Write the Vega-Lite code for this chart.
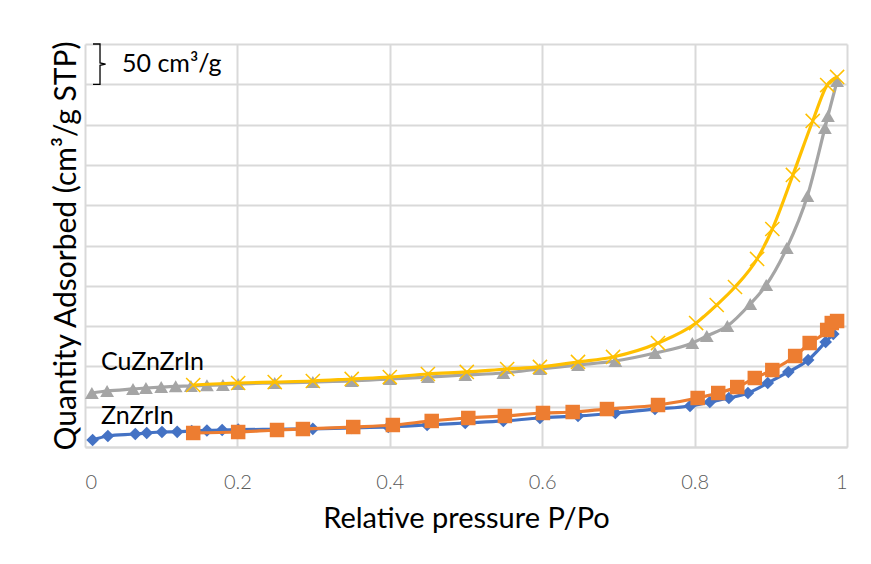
{
  "$schema": "https://vega.github.io/schema/vega-lite/v6.json",
  "width": 762,
  "height": 403,
  "autosize": {"type": "none"},
  "padding": {"left": 85, "top": 44, "right": 24, "bottom": 117},
  "background": "white",
  "config": {
    "font": "Lato",
    "view": {"stroke": null},
    "axis": {"gridColor": "#D9D9D9", "gridWidth": 2}
  },
  "datasets": {
    "iso": [
      {"series": "ZnZrIn ads", "p": 0.010, "q": 8.7},
      {"series": "ZnZrIn ads", "p": 0.030, "q": 13.6},
      {"series": "ZnZrIn ads", "p": 0.066, "q": 16.1},
      {"series": "ZnZrIn ads", "p": 0.081, "q": 17.4},
      {"series": "ZnZrIn ads", "p": 0.101, "q": 18.6},
      {"series": "ZnZrIn ads", "p": 0.121, "q": 18.8},
      {"series": "ZnZrIn ads", "p": 0.140, "q": 19.9},
      {"series": "ZnZrIn ads", "p": 0.160, "q": 20.5},
      {"series": "ZnZrIn ads", "p": 0.180, "q": 21.1},
      {"series": "ZnZrIn ads", "p": 0.201, "q": 21.5},
      {"series": "ZnZrIn ads", "p": 0.249, "q": 22.0},
      {"series": "ZnZrIn ads", "p": 0.299, "q": 22.5},
      {"series": "ZnZrIn ads", "p": 0.350, "q": 23.6},
      {"series": "ZnZrIn ads", "p": 0.398, "q": 24.8},
      {"series": "ZnZrIn ads", "p": 0.449, "q": 27.3},
      {"series": "ZnZrIn ads", "p": 0.499, "q": 29.8},
      {"series": "ZnZrIn ads", "p": 0.549, "q": 32.3},
      {"series": "ZnZrIn ads", "p": 0.597, "q": 36.0},
      {"series": "ZnZrIn ads", "p": 0.647, "q": 38.5},
      {"series": "ZnZrIn ads", "p": 0.696, "q": 42.2},
      {"series": "ZnZrIn ads", "p": 0.748, "q": 47.1},
      {"series": "ZnZrIn ads", "p": 0.794, "q": 50.9},
      {"series": "ZnZrIn ads", "p": 0.820, "q": 55.8},
      {"series": "ZnZrIn ads", "p": 0.845, "q": 60.8},
      {"series": "ZnZrIn ads", "p": 0.870, "q": 67.0},
      {"series": "ZnZrIn ads", "p": 0.896, "q": 79.4},
      {"series": "ZnZrIn ads", "p": 0.923, "q": 93.1},
      {"series": "ZnZrIn ads", "p": 0.949, "q": 107.9},
      {"series": "ZnZrIn ads", "p": 0.972, "q": 130.3},
      {"series": "ZnZrIn ads", "p": 0.982, "q": 140.2},

      {"series": "ZnZrIn des", "p": 0.142, "q": 17.4},
      {"series": "ZnZrIn des", "p": 0.201, "q": 18.6},
      {"series": "ZnZrIn des", "p": 0.252, "q": 21.1},
      {"series": "ZnZrIn des", "p": 0.286, "q": 22.3},
      {"series": "ZnZrIn des", "p": 0.352, "q": 24.8},
      {"series": "ZnZrIn des", "p": 0.404, "q": 27.3},
      {"series": "ZnZrIn des", "p": 0.455, "q": 32.3},
      {"series": "ZnZrIn des", "p": 0.503, "q": 36.0},
      {"series": "ZnZrIn des", "p": 0.551, "q": 38.5},
      {"series": "ZnZrIn des", "p": 0.601, "q": 42.2},
      {"series": "ZnZrIn des", "p": 0.640, "q": 43.4},
      {"series": "ZnZrIn des", "p": 0.685, "q": 47.1},
      {"series": "ZnZrIn des", "p": 0.752, "q": 52.1},
      {"series": "ZnZrIn des", "p": 0.804, "q": 60.8},
      {"series": "ZnZrIn des", "p": 0.831, "q": 67.0},
      {"series": "ZnZrIn des", "p": 0.856, "q": 74.4},
      {"series": "ZnZrIn des", "p": 0.879, "q": 85.6},
      {"series": "ZnZrIn des", "p": 0.902, "q": 95.5},
      {"series": "ZnZrIn des", "p": 0.932, "q": 112.9},
      {"series": "ZnZrIn des", "p": 0.951, "q": 129.0},
      {"series": "ZnZrIn des", "p": 0.974, "q": 145.2},
      {"series": "ZnZrIn des", "p": 0.980, "q": 153.8},
      {"series": "ZnZrIn des", "p": 0.987, "q": 156.3},

      {"series": "CuZnZrIn ads", "p": 0.009, "q": 67.0},
      {"series": "CuZnZrIn ads", "p": 0.029, "q": 69.5},
      {"series": "CuZnZrIn ads", "p": 0.063, "q": 72.0},
      {"series": "CuZnZrIn ads", "p": 0.080, "q": 73.2},
      {"series": "CuZnZrIn ads", "p": 0.100, "q": 74.4},
      {"series": "CuZnZrIn ads", "p": 0.119, "q": 75.3},
      {"series": "CuZnZrIn ads", "p": 0.139, "q": 75.7},
      {"series": "CuZnZrIn ads", "p": 0.160, "q": 76.5},
      {"series": "CuZnZrIn ads", "p": 0.181, "q": 76.9},
      {"series": "CuZnZrIn ads", "p": 0.201, "q": 78.2},
      {"series": "CuZnZrIn ads", "p": 0.249, "q": 79.4},
      {"series": "CuZnZrIn ads", "p": 0.299, "q": 80.6},
      {"series": "CuZnZrIn ads", "p": 0.350, "q": 81.9},
      {"series": "CuZnZrIn ads", "p": 0.400, "q": 84.4},
      {"series": "CuZnZrIn ads", "p": 0.450, "q": 86.8},
      {"series": "CuZnZrIn ads", "p": 0.499, "q": 89.3},
      {"series": "CuZnZrIn ads", "p": 0.549, "q": 91.8},
      {"series": "CuZnZrIn ads", "p": 0.597, "q": 96.8},
      {"series": "CuZnZrIn ads", "p": 0.647, "q": 101.7},
      {"series": "CuZnZrIn ads", "p": 0.696, "q": 106.7},
      {"series": "CuZnZrIn ads", "p": 0.748, "q": 116.6},
      {"series": "CuZnZrIn ads", "p": 0.797, "q": 129.0},
      {"series": "CuZnZrIn ads", "p": 0.816, "q": 137.7},
      {"series": "CuZnZrIn ads", "p": 0.843, "q": 150.1},
      {"series": "CuZnZrIn ads", "p": 0.873, "q": 177.4},
      {"series": "CuZnZrIn ads", "p": 0.894, "q": 201.0},
      {"series": "CuZnZrIn ads", "p": 0.921, "q": 246.9},
      {"series": "CuZnZrIn ads", "p": 0.948, "q": 311.4},
      {"series": "CuZnZrIn ads", "p": 0.971, "q": 395.8},
      {"series": "CuZnZrIn ads", "p": 0.975, "q": 410.7},
      {"series": "CuZnZrIn ads", "p": 0.987, "q": 454.1},

      {"series": "CuZnZrIn des", "p": 0.142, "q": 76.9},
      {"series": "CuZnZrIn des", "p": 0.201, "q": 79.4},
      {"series": "CuZnZrIn des", "p": 0.249, "q": 80.6},
      {"series": "CuZnZrIn des", "p": 0.299, "q": 81.9},
      {"series": "CuZnZrIn des", "p": 0.350, "q": 84.4},
      {"series": "CuZnZrIn des", "p": 0.400, "q": 86.8},
      {"series": "CuZnZrIn des", "p": 0.450, "q": 90.6},
      {"series": "CuZnZrIn des", "p": 0.501, "q": 93.1},
      {"series": "CuZnZrIn des", "p": 0.554, "q": 96.8},
      {"series": "CuZnZrIn des", "p": 0.597, "q": 99.3},
      {"series": "CuZnZrIn des", "p": 0.647, "q": 105.5},
      {"series": "CuZnZrIn des", "p": 0.693, "q": 111.7},
      {"series": "CuZnZrIn des", "p": 0.752, "q": 129.0},
      {"series": "CuZnZrIn des", "p": 0.802, "q": 153.8},
      {"series": "CuZnZrIn des", "p": 0.829, "q": 176.2},
      {"series": "CuZnZrIn des", "p": 0.853, "q": 198.5},
      {"series": "CuZnZrIn des", "p": 0.882, "q": 233.3},
      {"series": "CuZnZrIn des", "p": 0.902, "q": 270.5},
      {"series": "CuZnZrIn des", "p": 0.929, "q": 337.5},
      {"series": "CuZnZrIn des", "p": 0.955, "q": 404.5},
      {"series": "CuZnZrIn des", "p": 0.974, "q": 449.1},
      {"series": "CuZnZrIn des", "p": 0.987, "q": 459.1}
    ],
    "brace": [
      {"ord": 1, "p": 0.0105, "q": 500},
      {"ord": 2, "p": 0.0197, "q": 500},
      {"ord": 3, "p": 0.0197, "q": 476.5},
      {"ord": 4, "p": 0.0270, "q": 475},
      {"ord": 5, "p": 0.0197, "q": 473.5},
      {"ord": 6, "p": 0.0197, "q": 450},
      {"ord": 7, "p": 0.0105, "q": 450}
    ],
    "labels": [
      {"p": 0.0486, "q": 475, "text": "50 cm³/g"},
      {"p": 0.021, "q": 105, "text": "CuZnZrIn"},
      {"p": 0.021, "q": 38, "text": "ZnZrIn"}
    ]
  },
  "encoding": {
    "x": {
      "field": "p", "type": "quantitative",
      "scale": {"domain": [0, 1], "nice": false},
      "axis": {
        "title": "Relative pressure P/Po",
        "values": [0, 0.2, 0.4, 0.6, 0.8, 1],
        "format": "~g",
        "ticks": false,
        "domainColor": "#D9D9D9", "domainWidth": 2,
        "labelFont": "Lato", "labelFontSize": 20, "labelColor": "#595959", "labelFontWeight": 300,
        "labelPadding": 25,
        "titleFont": "Lato", "titleFontSize": 29, "titleFontWeight": "normal", "titleColor": "#000000",
        "titlePadding": 12
      }
    },
    "y": {
      "field": "q", "type": "quantitative",
      "scale": {"domain": [0, 500], "nice": false},
      "axis": {
        "title": "Quantity Adsorbed (cm³/g STP)",
        "values": [0, 50, 100, 150, 200, 250, 300, 350, 400, 450, 500],
        "labels": false, "ticks": false, "domain": false,
        "titleFont": "Lato", "titleFontSize": 30, "titleFontWeight": "normal", "titleColor": "#000000",
        "titlePadding": 4
      }
    }
  },
  "layer": [
    {"data": {"name": "iso"}, "transform": [{"filter": "datum.series === 'ZnZrIn ads'"}],
     "mark": {"type": "line", "color": "#4472C4", "strokeWidth": 3.2, "interpolate": "monotone"}},
    {"data": {"name": "iso"}, "transform": [{"filter": "datum.series === 'ZnZrIn ads'"}],
     "mark": {"type": "point", "shape": "diamond", "filled": true, "color": "#4472C4", "opacity": 1, "size": 160}},
    {"data": {"name": "iso"}, "transform": [{"filter": "datum.series === 'ZnZrIn des'"}],
     "mark": {"type": "line", "color": "#ED7D31", "strokeWidth": 3.2, "interpolate": "monotone"}},
    {"data": {"name": "iso"}, "transform": [{"filter": "datum.series === 'ZnZrIn des'"}],
     "mark": {"type": "point", "shape": "square", "filled": true, "color": "#ED7D31", "opacity": 1, "size": 210}},
    {"data": {"name": "iso"}, "transform": [{"filter": "datum.series === 'CuZnZrIn ads'"}],
     "mark": {"type": "line", "color": "#A5A5A5", "strokeWidth": 3.2, "interpolate": "monotone"}},
    {"data": {"name": "iso"}, "transform": [{"filter": "datum.series === 'CuZnZrIn ads'"}],
     "mark": {"type": "point", "shape": "triangle-up", "filled": true, "color": "#A5A5A5", "opacity": 1, "size": 190}},
    {"data": {"name": "iso"}, "transform": [{"filter": "datum.series === 'CuZnZrIn des'"}],
     "mark": {"type": "line", "color": "#FFC000", "strokeWidth": 3.2, "interpolate": "monotone"}},
    {"data": {"name": "iso"}, "transform": [{"filter": "datum.series === 'CuZnZrIn des'"}],
     "mark": {"type": "point", "shape": "M-1,-1L1,1M1,-1L-1,1", "filled": false, "stroke": "#FFC000", "strokeWidth": 1.5, "opacity": 1, "size": 200}},
    {"data": {"name": "brace"},
     "mark": {"type": "line", "color": "#000000", "strokeWidth": 1.3, "interpolate": "linear"},
     "encoding": {"order": {"field": "ord", "type": "quantitative"}}},
    {"data": {"name": "labels"},
     "mark": {"type": "text", "align": "left", "baseline": "middle", "font": "Lato", "fontSize": 25, "color": "#000000"},
     "encoding": {"text": {"field": "text", "type": "nominal"}}}
  ]
}
